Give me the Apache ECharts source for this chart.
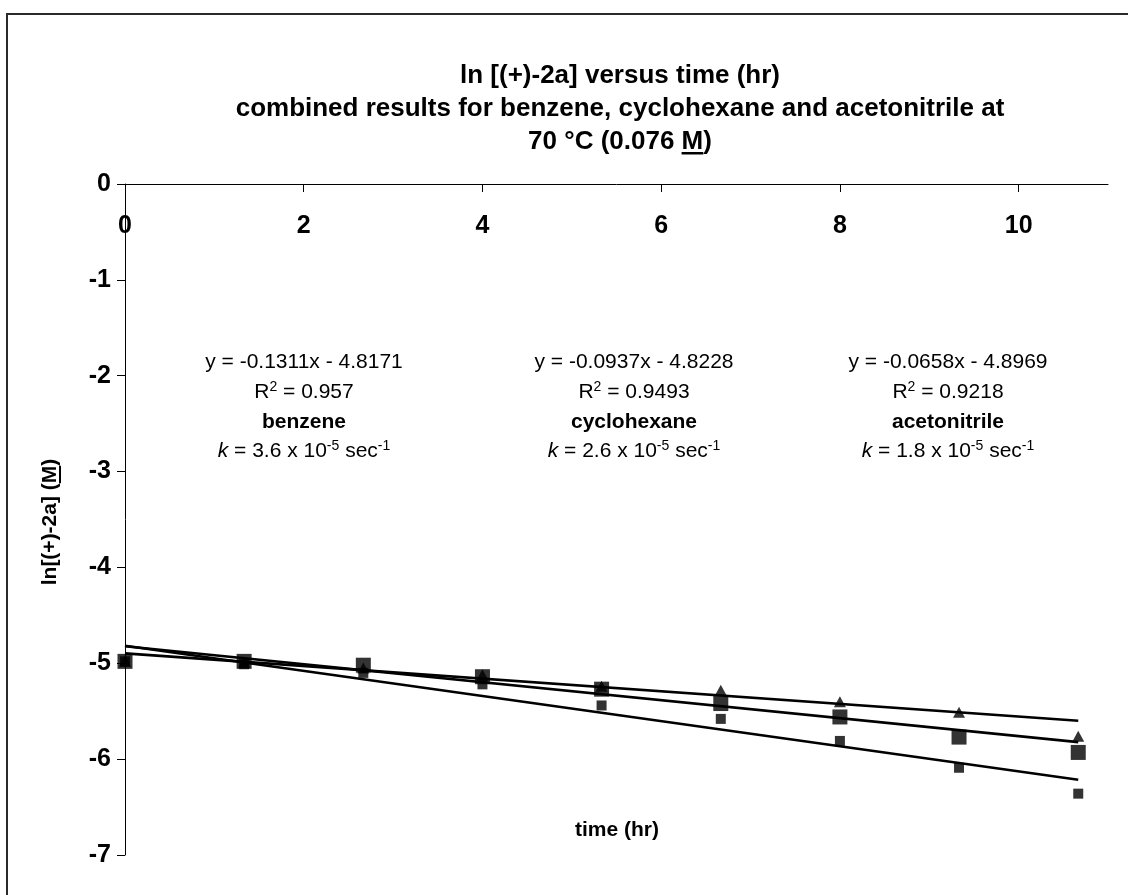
<!DOCTYPE html>
<html>
<head>
<meta charset="utf-8">
<script src="https://cdn.jsdelivr.net/npm/echarts@6/dist/echarts.min.js"></script>
<style>
  html, body { margin: 0; padding: 0; background: #ffffff; }
  #chart { width: 1128px; height: 895px; }
</style>
</head>
<body>
<div id="chart"></div>
<script>
// ---- data -------------------------------------------------------------
const timeHr = [0, 1.333, 2.667, 4, 5.333, 6.667, 8, 9.333, 10.667];

// ln[(+)-2a] measured in each solvent
const benzene      = [-4.98, -5.01, -5.10, -5.22, -5.44, -5.58, -5.81, -6.09, -6.36];
const cyclohexane  = [-4.98, -4.98, -5.02, -5.14, -5.27, -5.42, -5.56, -5.77, -5.93];
const acetonitrile = [-4.98, -4.99, -5.05, -5.12, -5.24, -5.28, -5.40, -5.51, -5.76];

// least-squares fits (slope, intercept), same order as the solvents
const solventNames   = ['benzene', 'cyclohexane', 'acetonitrile'];
const fitSlopes      = [-0.1311, -0.0937, -0.0658];
const fitIntercepts  = [-4.8171, -4.8228, -4.8969];
const fitR2          = ['0.957', '0.9493', '0.9218'];
const rateConstants  = ['3.6', '2.6', '1.8'];

const xTickValues = [0, 2, 4, 6, 8, 10];
const titleLines = [
  'ln [(+)-2a] versus time (hr)',
  'combined results for benzene, cyclohexane and acetonitrile at',
  '70 °C (0.076 M)'
];

// ---- helpers ----------------------------------------------------------
const FONT = '"Liberation Sans", Arial, Helvetica, sans-serif';
const measureCtx = document.createElement('canvas').getContext('2d');
function textWidth(str, font) {
  measureCtx.font = font;
  return measureCtx.measureText(str).width;
}
function pairs(xs, ys) { return xs.map((x, i) => [x, ys[i]]); }
function fitLine(i) {
  const x0 = timeHr[0], x1 = timeHr[timeHr.length - 1];
  return [[x0, fitSlopes[i] * x0 + fitIntercepts[i]],
          [x1, fitSlopes[i] * x1 + fitIntercepts[i]]];
}

const chart = echarts.init(document.getElementById('chart'), null, { renderer: 'canvas' });

// ---- title (three centred lines, "M" underlined) -----------------------
const titleFontSize = 26;
const titleFont = 'bold ' + titleFontSize + 'px ' + FONT;
const titleCx = 620;
const titleYs = [76, 109, 142];
const titleGraphics = titleLines.map((t, i) => ({
  type: 'text', x: titleCx, y: titleYs[i], silent: true,
  style: { text: t, font: titleFont, fill: '#000', align: 'center', verticalAlign: 'middle' }
}));
{
  const full = titleLines[2];
  const pre = full.slice(0, full.lastIndexOf('M'));
  const wFull = textWidth(full, titleFont);
  const wPre = textWidth(pre, titleFont);
  const wM = textWidth('M', titleFont);
  titleGraphics.push({
    type: 'rect', silent: true,
    shape: { x: titleCx - wFull / 2 + wPre, y: titleYs[2] + 10, width: wM, height: 2.5 },
    style: { fill: '#000' }
  });
}

// ---- y-axis name (rotated, "M" underlined) -----------------------------
const yNameFont = 'bold 21px ' + FONT;
const yNameText = 'ln[(+)-2a] (M)';
const yNamePre = 'ln[(+)-2a] (';
const yW = textWidth(yNameText, yNameFont);
const yPreW = textWidth(yNamePre, yNameFont);
const yMW = textWidth('M', yNameFont);
const yNameGroup = {
  type: 'group', x: 50, y: 522, rotation: Math.PI / 2, silent: true,
  children: [
    { type: 'text', x: 0, y: 0,
      style: { text: yNameText, font: yNameFont, fill: '#000', align: 'center', verticalAlign: 'middle' } },
    { type: 'rect', shape: { x: -yW / 2 + yPreW, y: 9, width: yMW, height: 2 }, style: { fill: '#000' } }
  ]
};

// ---- regression annotations --------------------------------------------
const noteCx = [304, 634, 948];
const noteYs = [362, 392, 422, 451];
const rich = {
  a:   { fontFamily: FONT, fontSize: 21, color: '#000', lineHeight: 24 },
  b:   { fontFamily: FONT, fontSize: 21, fontWeight: 'bold', color: '#000', lineHeight: 24 },
  i:   { fontFamily: FONT, fontSize: 21, fontStyle: 'italic', color: '#000', lineHeight: 24 },
  sup: { fontFamily: FONT, fontSize: 14, color: '#000', lineHeight: 12, verticalAlign: 'top' }
};
function fmtFit(i) {
  const s = fitSlopes[i], c = fitIntercepts[i];
  return 'y = ' + s.toFixed(4) + 'x ' + (c < 0 ? '- ' : '+ ') + Math.abs(c).toFixed(4);
}
const noteGraphics = [];
solventNames.forEach((name, i) => {
  const lines = [
    '{a|' + fmtFit(i) + '}',
    '{a|R}{sup|2}{a| = ' + fitR2[i] + '}',
    '{b|' + name + '}',
    '{i|k}{a| = ' + rateConstants[i] + ' x 10}{sup|-5}{a| sec}{sup|-1}'
  ];
  lines.forEach((txt, j) => {
    noteGraphics.push({
      type: 'text', x: noteCx[i], y: noteYs[j], silent: true,
      style: { text: txt, rich: rich, align: 'center', verticalAlign: 'middle' }
    });
  });
});

// ---- x-axis name -------------------------------------------------------
const xNameGraphic = {
  type: 'text', x: 617, y: 830, silent: true,
  style: { text: 'time (hr)', font: 'bold 21px ' + FONT, fill: '#000', align: 'center', verticalAlign: 'middle' }
};

// ---- outer frame -------------------------------------------------------
const frame = {
  type: 'rect', z: -10, silent: true,
  shape: { x: 7, y: 14, width: 1200, height: 1000 },
  style: { fill: '#fff', stroke: '#2a2a2a', lineWidth: 2 }
};

const axisLabelStyle = { fontFamily: FONT, fontSize: 25, fontWeight: 'bold', color: '#000' };

const option = {
  backgroundColor: '#ffffff',
  animation: false,
  grid: { left: 125, top: 184, right: 20, bottom: 40, containLabel: false },
  xAxis: {
    type: 'value', position: 'top', min: 0, max: 11, interval: 2,
    axisLine: { show: true, onZero: false, lineStyle: { color: '#000', width: 1 } },
    axisTick: { show: true, inside: true, length: 8, lineStyle: { color: '#000' }, customValues: xTickValues },
    axisLabel: Object.assign({ inside: true, margin: 30, customValues: xTickValues }, axisLabelStyle),
    splitLine: { show: false }
  },
  yAxis: {
    type: 'value', min: -7, max: 0, interval: 1,
    axisLine: { show: true, onZero: false, lineStyle: { color: '#000', width: 1 } },
    axisTick: { show: true, inside: false, length: 8, lineStyle: { color: '#000' } },
    axisLabel: Object.assign({ margin: 14 }, axisLabelStyle),
    splitLine: { show: false }
  },
  series: [
    ...[0, 1, 2].map(i => ({
      type: 'line', name: solventNames[i] + ' fit', data: fitLine(i),
      showSymbol: false, symbol: 'none', silent: true, z: 1,
      lineStyle: { color: '#000', width: 2.6 }
    })),
    { type: 'scatter', name: 'benzene', data: pairs(timeHr, benzene),
      symbol: 'rect', symbolSize: 10, itemStyle: { color: '#000' }, z: 2 },
    { type: 'scatter', name: 'acetonitrile', data: pairs(timeHr, acetonitrile),
      symbol: 'triangle', symbolSize: [12, 11], itemStyle: { color: '#000' }, z: 3 },
    { type: 'scatter', name: 'cyclohexane', data: pairs(timeHr, cyclohexane),
      symbol: 'rect', symbolSize: 15, itemStyle: { color: '#000' }, z: 4 }
  ],
  graphic: [frame, ...titleGraphics, yNameGroup, ...noteGraphics, xNameGraphic]
};

chart.setOption(option);
</script>
</body>
</html>
